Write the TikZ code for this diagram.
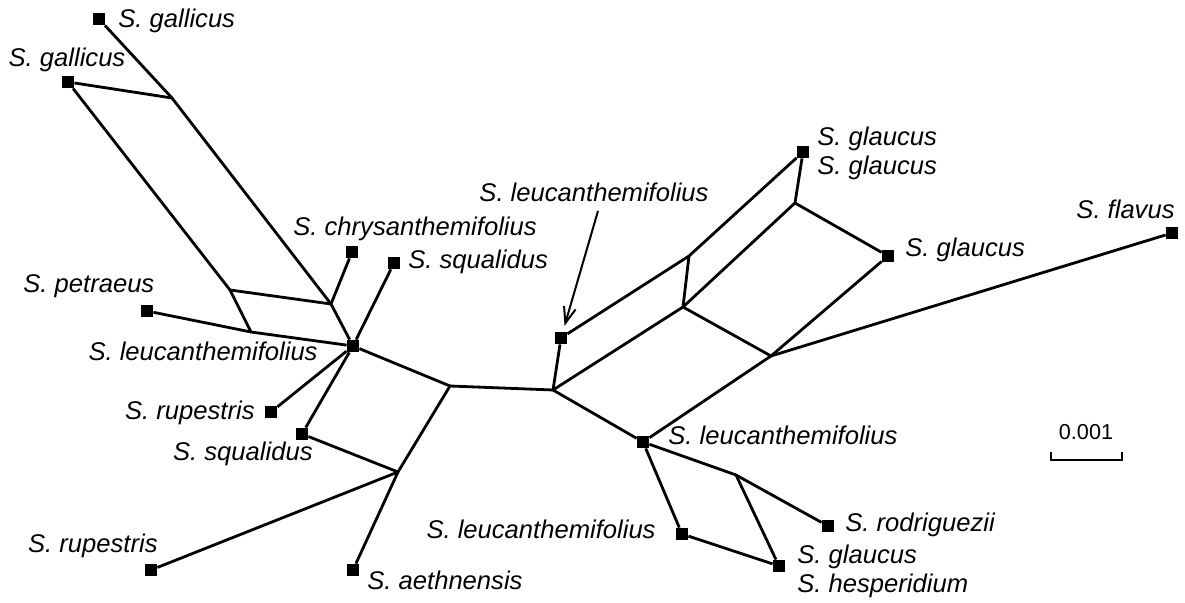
\documentclass[tikz,border=0pt]{standalone}
\usepackage{fontspec}
\setmainfont{Liberation Sans}
\usetikzlibrary{arrows.meta}
\tikzset{
  taxon/.style={fill=black, minimum size=6.4pt, inner sep=0pt, outer sep=0pt},
  tname/.style={font=\fontsize{12.8}{15}\selectfont\itshape, inner sep=0pt},
  edge/.style={line width=1.4pt, line join=round},
  pointer/.style={-{Straight Barb[length=8pt,width=6pt]}, line width=1pt},
  scalebar/.style={line width=1pt},
}

\begin{document}
\begin{tikzpicture}[x=0.5pt, y=-0.5pt]
  \useasboundingbox (0,0) rectangle (1185,603);
  % taxa
  \node[taxon] (gal1) at (99,19) {};
  \node[taxon] (gal2) at (68,82) {};
  \node[taxon] (chrys) at (352,252) {};
  \node[taxon] (squ1) at (394,263) {};
  \node[taxon] (pet) at (147,311) {};
  \node[taxon] (hub) at (353,346) {};
  \node[taxon] (rup1) at (271,412) {};
  \node[taxon] (squ2) at (302,434) {};
  \node[taxon] (rup2) at (151,570) {};
  \node[taxon] (aeth) at (353,570) {};
  \node[taxon] (leuA) at (561,338) {};
  \node[taxon] (glaA) at (803,152) {};
  \node[taxon] (glaB) at (888,256) {};
  \node[taxon] (flav) at (1172,233) {};
  \node[taxon] (leuB) at (643,442) {};
  \node[taxon] (leuC) at (682,534) {};
  \node[taxon] (rodr) at (828,526) {};
  \node[taxon] (glaC) at (779,566) {};
  % split points
  \coordinate (a1) at (172,98);
  \coordinate (a2) at (331,304);
  \coordinate (b1) at (230,290);
  \coordinate (b2) at (251,332);
  \coordinate (c1) at (450,386);
  \coordinate (c2) at (398,472);
  \coordinate (d1) at (553,390);
  \coordinate (d2) at (689,256);
  \coordinate (d3) at (683,307);
  \coordinate (d4) at (795,203);
  \coordinate (d5) at (771,356);
  \coordinate (e1) at (736,475);

  \draw[edge] (gal1) -- (a1) -- (a2) -- (hub);
  \draw[edge] (gal2) -- (a1);
  \draw[edge] (gal2) -- (b1) -- (b2) -- (hub);
  \draw[edge] (b1) -- (a2);
  \draw[edge] (a2) -- (chrys);
  \draw[edge] (pet) -- (b2);
  \draw[edge] (hub) -- (squ1);
  \draw[edge] (hub) -- (rup1);
  \draw[edge] (hub) -- (squ2) -- (c2);
  \draw[edge] (hub) -- (c1) -- (c2);
  \draw[edge] (rup2) -- (c2) -- (aeth);
  \draw[edge] (c1) -- (d1);
  \draw[edge] (d1) -- (leuA) -- (d2) -- (glaA);
  \draw[edge] (d1) -- (d3) -- (d4) -- (glaA);
  \draw[edge] (d2) -- (d3);
  \draw[edge] (d3) -- (d5) -- (glaB);
  \draw[edge] (d4) -- (glaB);
  \draw[edge] (d5) -- (flav);
  \draw[edge] (d1) -- (leuB) -- (d5);
  \draw[edge] (leuB) -- (e1) -- (rodr);
  \draw[edge] (e1) -- (glaC);
  \draw[edge] (leuB) -- (leuC) -- (glaC);

  % labels
  \node[tname, anchor=mid west] (lgal1) at (118,22) {S. gallicus};
  \node[tname, anchor=mid] (lgal2) at (67,61) {S. gallicus};
  \node[tname, anchor=mid west] (lchrys) at (293,230) {S. chrysanthemifolius};
  \node[tname, anchor=mid west] (lsqu1) at (408,263) {S. squalidus};
  \node[tname, anchor=mid west] (lpet) at (23,287) {S. petraeus};
  \node[tname, anchor=mid east] (lhub) at (318,355) {S. leucanthemifolius};
  \node[tname, anchor=mid east] (lrup1) at (255,414) {S. rupestris};
  \node[tname, anchor=mid east] (lsqu2) at (313,455) {S. squalidus};
  \node[tname, anchor=mid east] (lrup2) at (158,547) {S. rupestris};
  \node[tname, anchor=mid west] (laeth) at (367,584) {S. aethnensis};
  \node[tname, anchor=mid] (lleuA) at (594,196) {S. leucanthemifolius};
  \node[tname, anchor=mid west] (lglaA1) at (817,140) {S. glaucus};
  \node[tname, anchor=mid west] (lglaA2) at (817,169) {S. glaucus};
  \node[tname, anchor=mid west] (lglaB) at (905,251) {S. glaucus};
  \node[tname, anchor=mid east] (lflav) at (1175,213) {S. flavus};
  \node[tname, anchor=mid west] (lleuB) at (668,439) {S. leucanthemifolius};
  \node[tname, anchor=mid east] (lleuC) at (656,533) {S. leucanthemifolius};
  \node[tname, anchor=mid west] (lrodr) at (845,526) {S. rodriguezii};
  \node[tname, anchor=mid west] (lglaC) at (797,558) {S. glaucus};
  \node[tname, anchor=mid west] (lhesp) at (797,587) {S. hesperidium};

  \coordinate (tail) at (598,211);
  \draw[pointer, shorten >=3pt] (tail) -- (leuA);

  % scale bar
  \coordinate (sbl) at (1051,460);
  \coordinate (sbr) at (1122,460);
  \draw[scalebar] ([yshift=4pt]sbl) -- (sbl) -- (sbr) -- ([yshift=4pt]sbr);
  \node[font=\fontsize{10.8}{12}\selectfont, inner sep=0pt] (sblbl) at (1086,432) {0.001};
\end{tikzpicture}
\end{document}
